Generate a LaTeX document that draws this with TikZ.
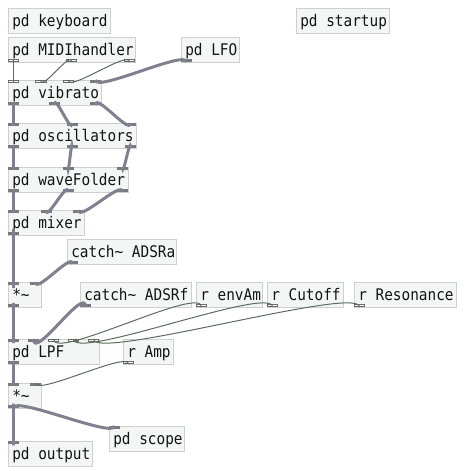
\documentclass[tikz,border=0pt]{standalone}
\usepackage{fontspec}
\newfontfamily\pdfont[FakeStretch=0.9]{DejaVu Sans Mono}
\usetikzlibrary{calc}
\definecolor{boxfill}{HTML}{F4F6F6}
\definecolor{boxline}{HTML}{CFCFCF}
\definecolor{sigcol}{HTML}{80808F}
\definecolor{sigiocol}{HTML}{7A7A7E}
\definecolor{ctlcol}{HTML}{5C6C5C}
\definecolor{ctliocol}{HTML}{6A6A6A}
\tikzset{
  pdbox/.style={draw=boxline, fill=boxfill, line width=1.3pt, anchor=north west,
    inner xsep=3pt, inner ysep=0pt, minimum height=25pt, text height=12.5pt, text depth=2.5pt,
    font=\pdfont\fontsize{16pt}{16pt}\selectfont, text=black!92},
  sigin/.style={fill=sigiocol, draw=none, minimum width=11pt, minimum height=3pt, inner sep=0pt, outer sep=0pt, anchor=north west},
  sigout/.style={sigin, anchor=south west},
  ctlin/.style={fill=white, draw=ctliocol, line width=0.8pt, minimum width=10.2pt, minimum height=2.4pt, inner sep=0pt, outer sep=0.4pt, anchor=north west},
  ctlout/.style={ctlin, anchor=south west},
  sigwire/.style={draw=sigcol, line width=3pt},
  ctlwire/.style={draw=ctlcol, line width=1pt},
}
\newcommand\pdobj[5]{\node[pdbox, minimum width=#4pt] (#1) at (#2,#3) {\makebox[\dimexpr#4pt-7.3pt\relax][l]{#5}};}
\newcommand\pdwire[3]{\draw[#1] let \p1=(#2), \p2=(#3), \n1={max(0.7*abs(\y1-\y2),4pt)} in
  (\p1) .. controls ($(\p1)+(0,\n1)$) and ($(\p2)-(0,\n1)$) .. (\p2);}
\begin{document}
\begin{tikzpicture}[x=1pt,y=-1pt]
\useasboundingbox[fill=white] (0,0) rectangle (468,471);
% boxes
\pdobj{kb}{8}{8}{102}{pd keyboard}
\pdobj{st}{296}{8}{93}{pd startup}
\pdobj{midi}{8}{37}{127}{pd MIDIhandler}
\pdobj{lfo}{181}{37}{58}{pd LFO}
\pdobj{vib}{8}{80}{93}{pd vibrato}
\pdobj{osc}{8}{123}{128}{pd oscillators}
\pdobj{wf}{8}{167}{120}{pd waveFolder}
\pdobj{mix}{8}{210}{76}{pd mixer}
\pdobj{adsra}{67}{239}{109}{catch\char`\~{} ADSRa}
\pdobj{ma}{8}{282}{33}{*\char`\~}
\pdobj{adsrf}{80}{282}{111}{catch\char`\~{} ADSRf}
\pdobj{envam}{196}{282}{66}{r envAm}
\pdobj{cutoff}{267}{282}{76}{r Cutoff}
\pdobj{reso}{354}{282}{102}{r Resonance}
\pdobj{lpf}{8}{339}{91}{pd LPF}
\pdobj{amp}{123}{339}{50}{r Amp}
\pdobj{mb}{8}{383}{33}{*\char`\~}
\pdobj{scope}{109}{426}{75}{pd scope}
\pdobj{out}{8}{441}{84}{pd output}
% iolets
\node[ctlout] (midi-o0) at (8,62) {};
\node[ctlout] (midi-o1) at (66,62) {};
\node[ctlout] (midi-o2) at (124,62) {};
\node[sigout] (lfo-o0) at (181,62) {};
\node[ctlin] (vib-i0) at (8,80) {};
\node[ctlin] (vib-i1) at (35.3,80) {};
\node[ctlin] (vib-i2) at (62.7,80) {};
\node[sigin] (vib-i3) at (90,80) {};
\node[sigout] (vib-o0) at (8,105) {};
\node[sigout] (vib-o1) at (49,105) {};
\node[sigout] (vib-o2) at (90,105) {};
\node[sigin] (osc-i0) at (8,123) {};
\node[sigin] (osc-i1) at (66.5,123) {};
\node[sigin] (osc-i2) at (125,123) {};
\node[sigout] (osc-o0) at (8,148) {};
\node[sigout] (osc-o1) at (66.5,148) {};
\node[sigout] (osc-o2) at (125,148) {};
\node[sigin] (wf-i0) at (8,167) {};
\node[sigin] (wf-i1) at (62.5,167) {};
\node[sigin] (wf-i2) at (117,167) {};
\node[sigout] (wf-o0) at (8,192) {};
\node[sigout] (wf-o1) at (62.5,192) {};
\node[sigout] (wf-o2) at (117,192) {};
\node[sigin] (mix-i0) at (8,210) {};
\node[sigin] (mix-i1) at (40.5,210) {};
\node[sigin] (mix-i2) at (73,210) {};
\node[sigout] (mix-o0) at (8,235) {};
\node[sigout] (adsra-o0) at (67,264) {};
\node[sigin] (ma-i0) at (8,282) {};
\node[sigin] (ma-i1) at (30,282) {};
\node[sigout] (ma-o0) at (8,307) {};
\node[sigout] (adsrf-o0) at (80,307) {};
\node[ctlout] (envam-o0) at (196,307) {};
\node[ctlout] (cutoff-o0) at (267,307) {};
\node[ctlout] (reso-o0) at (354,307) {};
\node[sigin] (lpf-i0) at (8,339) {};
\node[sigin] (lpf-i1) at (28,339) {};
\node[ctlin] (lpf-i2) at (48,339) {};
\node[ctlin] (lpf-i3) at (68,339) {};
\node[ctlin] (lpf-i4) at (88,339) {};
\node[sigout] (lpf-o0) at (8,364) {};
\node[ctlout] (amp-o0) at (123,364) {};
\node[sigin] (mb-i0) at (8,383) {};
\node[sigin] (mb-i1) at (30,383) {};
\node[sigout] (mb-o0) at (8,408) {};
\node[sigin] (scope-i0) at (109,426) {};
\node[sigin] (out-i0) at (8,441) {};
% cables
\pdwire{ctlwire}{midi-o0.south}{vib-i0.north}
\pdwire{ctlwire}{midi-o1.south}{vib-i1.north}
\pdwire{ctlwire}{midi-o2.south}{vib-i2.north}
\pdwire{sigwire}{lfo-o0.south}{vib-i3.north}
\pdwire{sigwire}{vib-o0.south}{osc-i0.north}
\pdwire{sigwire}{vib-o1.south}{osc-i1.north}
\pdwire{sigwire}{vib-o2.south}{osc-i2.north}
\pdwire{sigwire}{osc-o0.south}{wf-i0.north}
\pdwire{sigwire}{osc-o1.south}{wf-i1.north}
\pdwire{sigwire}{osc-o2.south}{wf-i2.north}
\pdwire{sigwire}{wf-o0.south}{mix-i0.north}
\pdwire{sigwire}{wf-o1.south}{mix-i1.north}
\pdwire{sigwire}{wf-o2.south}{mix-i2.north}
\pdwire{sigwire}{mix-o0.south}{ma-i0.north}
\pdwire{sigwire}{adsra-o0.south}{ma-i1.north}
\pdwire{sigwire}{ma-o0.south}{lpf-i0.north}
\pdwire{sigwire}{adsrf-o0.south}{lpf-i1.north}
\pdwire{ctlwire}{envam-o0.south}{lpf-i2.north}
\pdwire{ctlwire}{cutoff-o0.south}{lpf-i3.north}
\pdwire{ctlwire}{reso-o0.south}{lpf-i4.north}
\pdwire{sigwire}{lpf-o0.south}{mb-i0.north}
\pdwire{ctlwire}{amp-o0.south}{mb-i1.north}
\pdwire{sigwire}{mb-o0.south}{out-i0.north}
\pdwire{sigwire}{mb-o0.south}{scope-i0.north}
\end{tikzpicture}
\end{document}
